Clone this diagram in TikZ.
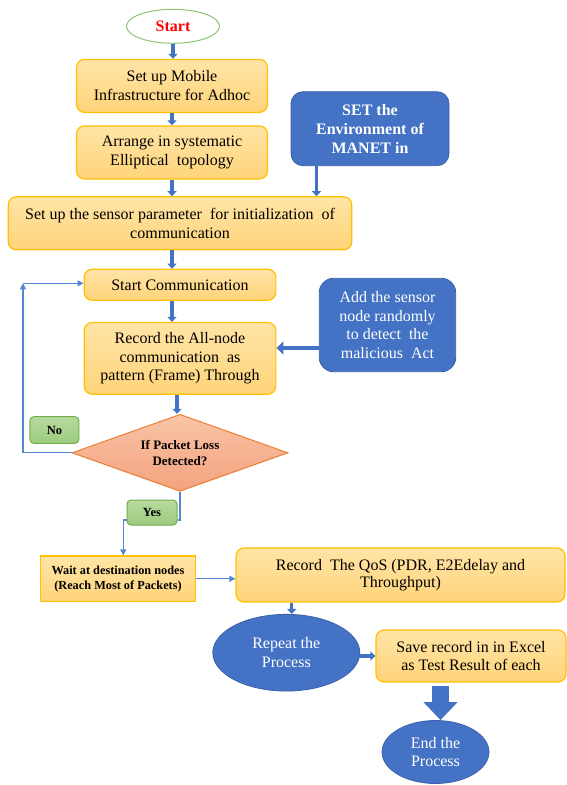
\documentclass[tikz,border=0pt]{standalone}
\usepackage{fontspec}
\IfFontExistsTF{LiberationSerif-Regular.ttf}
  {\setmainfont{LiberationSerif}[Extension=.ttf, UprightFont=*-Regular, BoldFont=*-Bold, ItalicFont=*-Italic, BoldItalicFont=*-BoldItalic]}
  {\setmainfont{Liberation Serif}}
\usepackage{xcolor}
\usetikzlibrary{shapes.geometric, arrows.meta, positioning, calc}
\definecolor{yelTop}{HTML}{FFE4A6}
\definecolor{yelBot}{HTML}{FFD47A}
\definecolor{yelEdge}{HTML}{FFC000}
\definecolor{bluFill}{HTML}{4472C4}
\definecolor{bluEdge}{HTML}{3A62A8}
\definecolor{grnTop}{HTML}{B8DA9F}
\definecolor{grnBot}{HTML}{9CCB7E}
\definecolor{grnEdge}{HTML}{70AD47}
\definecolor{dmdTop}{HTML}{F8C4A6}
\definecolor{dmdBot}{HTML}{F4A27E}
\definecolor{dmdEdge}{HTML}{ED7D31}
\definecolor{startEdge}{HTML}{8CC474}
\definecolor{arrowBlue}{HTML}{4472C4}
\definecolor{lineBlue}{HTML}{5585D6}
\tikzstyle{process} = [rectangle, rounded corners=8pt, minimum width=191pt, minimum height=53pt, inner sep=1pt, text centered, align=center, draw=yelEdge, line width=1.2pt, top color=yelTop, bottom color=yelBot, font=\rmfamily\fontsize{16}{19}\selectfont]
\tikzstyle{bluebox} = [rectangle, rounded corners=12pt, inner sep=1pt, text centered, align=center, text=white, draw=bluEdge, line width=0.8pt, fill=bluFill, font=\rmfamily\fontsize{16}{19}\selectfont]
\tikzstyle{blueoval} = [ellipse, inner sep=0pt, text centered, align=center, text=white, draw=bluEdge, line width=0.8pt, fill=bluFill, font=\rmfamily\fontsize{16}{18.5}\selectfont]
\tikzstyle{startstop} = [ellipse, minimum width=93pt, minimum height=34pt, inner sep=0pt, draw=startEdge, fill=white, line width=1pt, text=red, font=\rmfamily\bfseries\fontsize{16}{19}\selectfont]
\tikzstyle{decision} = [diamond, aspect=2.8, minimum width=216pt, minimum height=77pt, inner sep=0pt, text centered, align=center, draw=dmdEdge, line width=1pt, top color=dmdTop, bottom color=dmdBot, font=\rmfamily\bfseries\fontsize{13}{16.5}\selectfont]
\tikzstyle{answer} = [rectangle, rounded corners=4pt, inner sep=0pt, draw=grnEdge, line width=1pt, top color=grnTop, bottom color=grnBot, font=\rmfamily\bfseries\fontsize{12.5}{15}\selectfont]
\tikzstyle{arrow} = [line width=3.5pt, draw=arrowBlue, -{Triangle[width=9pt,length=5pt]}]
\tikzstyle{thinarrow} = [line width=1.1pt, draw=lineBlue, -{Triangle[width=6pt,length=6pt]}]
\tikzstyle{thinline} = [line width=1.1pt, draw=lineBlue]
\tikzstyle{blockarrow} = [line width=17pt, draw=arrowBlue, -{Triangle[width=33pt,length=18pt]}]

\begin{document}
\begin{tikzpicture}[x=1pt, y=-1pt]
        \useasboundingbox (0,0) rectangle (567,785);
        \node (start) [startstop] at (173,26.3) {Start};
        \node (setup) [process, below=15pt of start, xshift=-1pt] {Set up Mobile\\Infrastructure for Adhoc};
        \node (arrange) [process, below=12.3pt of setup] {Arrange in systematic\\Elliptical\ \ topology};
        \node (sensor) [process, below=16.7pt of arrange, xshift=8pt, minimum width=343.5pt] {Set up the sensor parameter\ \ for initialization\ \ of\\communication};
        \node (manet) [bluebox, font=\rmfamily\bfseries\fontsize{16}{19}\selectfont, minimum width=158pt, minimum height=74pt] at (370,128.7) {SET the\\Environment of\\MANET in};
        \node (startcomm) [process, below=18.3pt of sensor, minimum height=31pt, minimum width=191.7pt] {Start Communication};
        \node (record) [process, below=21pt of startcomm, minimum height=71.7pt, minimum width=191.7pt, font=\rmfamily\fontsize{16}{18.3}\selectfont] {Record the All-node\\communication\ \ as\\pattern (Frame) Through};
        \node (addnode) [bluebox, minimum width=136.4pt, minimum height=93.4pt, rounded corners=14pt, font=\rmfamily\fontsize{16}{18.7}\selectfont] at (387.5,325) {Add the sensor\\node randomly\\to detect\ \ the\\malicious\ \ Act};
        \node (check) [decision, below=19pt of record] {If Packet Loss\\Detected?};
        \node (no) [answer, minimum width=49pt, minimum height=26.7pt] at (54.4,430) {No};
        \node (yes) [answer, minimum width=50pt, minimum height=25pt] at (152,512.5) {Yes};
        \node (wait) [process, rounded corners=0pt, minimum width=155pt, minimum height=45.7pt, font=\rmfamily\bfseries\fontsize{12.3}{15}\selectfont] at (118,578.8) {Wait at destination nodes\\(Reach Most of Packets)};
        \node (qos) [process, minimum width=329pt, minimum height=54pt, font=\rmfamily\fontsize{16}{17.5}\selectfont] at (400.5,575) {Record\ \ The QoS (PDR, E2Edelay and\\Throughput)};
        \node (repeat) [blueoval, minimum width=147pt, minimum height=76.7pt] at (286.3,652.7) {Repeat the\\Process};
        \node (save) [process, minimum width=190pt, minimum height=52pt, font=\rmfamily\fontsize{16}{17.7}\selectfont] at (471,656) {Save record in in Excel\\as Test Result of each};
        \node (finish) [blueoval, minimum width=107pt, minimum height=63pt] at (435.5,752) {End the\\Process};

        \coordinate (loopcorner) at (23,283.3);
        \coordinate (addin) at (0,348);

        \draw [arrow] (start) -- (start |- setup.north);
        \draw [arrow] (setup) -- (arrange);
        \draw [arrow] (arrange.south) -- (arrange.south |- sensor.north);
        \draw [arrow] ([xshift=-53.5pt]manet.south) -- ([xshift=-53.5pt]manet.south |- sensor.north);
        \draw [arrow] ([xshift=-8pt]sensor.south) -- ([xshift=-8pt]sensor.south |- startcomm.north);
        \draw [arrow] ([xshift=-8pt]startcomm.south) -- ([xshift=-8pt]startcomm.south |- record.north);
        \draw [arrow] ([xshift=-3pt]record.south) -- ([xshift=-3pt]record.south |- check.north);
        \draw [line width=4.5pt, draw=arrowBlue, -{Triangle[width=13pt,length=7pt]}] (addin -| addnode.west) -- (addin -| record.east);
        \draw [thinarrow] (check.west) -| (loopcorner);
        \draw [thinarrow] (loopcorner) -- (loopcorner -| startcomm.west);
        \draw [thinline] (check.south) |- ([yshift=-7.5pt]yes.east);
        \draw [thinarrow] ([yshift=-7.5pt]yes.west) -| ([xshift=5.3pt]wait.north);
        \draw [thinarrow] (wait.east) -- (wait.east -| qos.west);
        \draw [arrow] ([xshift=5.4pt]repeat.north |- qos.south) -- ([xshift=5.4pt]repeat.north);
        \draw [arrow] (save.west -| repeat.east) -- (save.west);
        \draw [blockarrow, shorten <=3pt] ([xshift=5pt]finish.north |- save.south) -- ([xshift=5pt]finish.north);
    \end{tikzpicture}
\end{document}
